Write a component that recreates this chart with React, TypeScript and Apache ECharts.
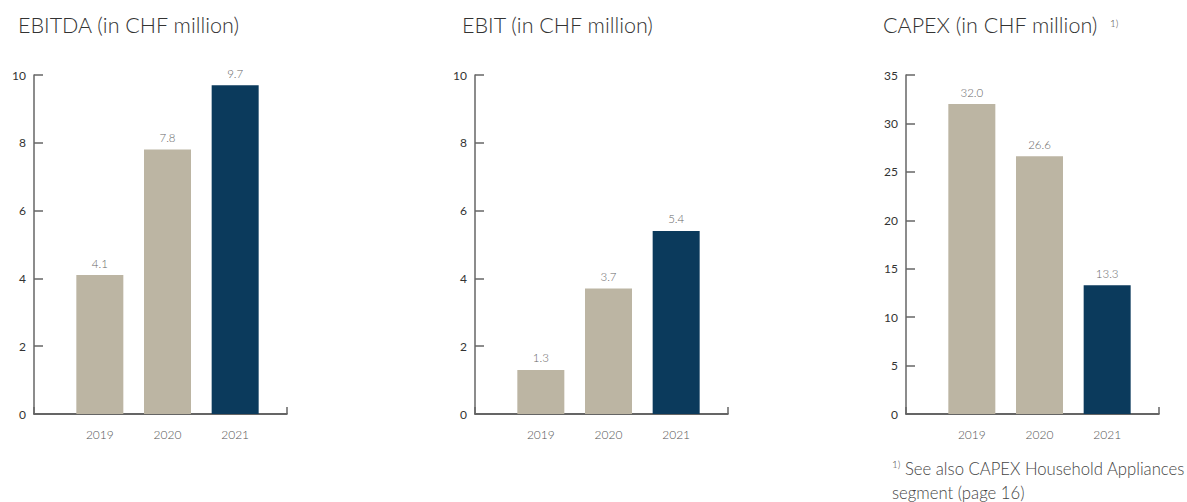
import React, { useEffect, useRef } from "react";
import * as echarts from "echarts";

const years = ["2019", "2020", "2021"];
const ebitdaValues = [4.1, 7.8, 9.7];
const ebitValues = [1.3, 3.7, 5.4];
const capexValues = [32.0, 26.6, 13.3];
const ebitdaAxis = { max: 10, interval: 2 };
const ebitAxis = { max: 10, interval: 2 };
const capexAxis = { max: 35, interval: 5 };
const titles = ["EBITDA (in CHF million)", "EBIT (in CHF million)", "CAPEX (in CHF million)"];
const footnoteMark = "1)";
const footnoteLines = ["See also CAPEX Household Appliances", "segment (page 16)"];

const FONT = "Lato, 'Open Sans', sans-serif";
const BEIGE = "#bcb5a3";
const NAVY = "#0b3a5c";

export default function App() {
  const ref = useRef<HTMLDivElement>(null);
  useEffect(() => {
    document.body.style.margin = "0";
    if (!ref.current) return;
    const chart = echarts.init(ref.current, null, { renderer: "svg" });
    const panels = [
      { values: ebitdaValues, axis: ebitdaAxis, axisX: 34, titleX: 18, title: titles[0] },
      { values: ebitValues, axis: ebitAxis, axisX: 475, titleX: 462, title: titles[1] },
      { values: capexValues, axis: capexAxis, axisX: 906, titleX: 883, title: titles[2] },
    ];
    const top = 75;
    const height = 339;
    const grid: any[] = [];
    const xAxis: any[] = [];
    const yAxis: any[] = [];
    const series: any[] = [];
    const graphic: any[] = [];
    panels.forEach((p, i) => {
      grid.push({ left: p.axisX, top, width: 253, height });
      grid.push({ left: p.axisX + 32, top, width: 203, height });
      xAxis.push({
        gridIndex: 2 * i,
        type: "value",
        min: 0,
        max: 1,
        interval: 1,
        axisLine: { show: true, onZero: false, lineStyle: { color: "#333", width: 1.5 } },
        axisTick: { show: true, inside: true, length: 7, lineStyle: { color: "#666", width: 1.5 } },
        axisLabel: { show: false },
        splitLine: { show: false },
      });
      xAxis.push({
        gridIndex: 2 * i + 1,
        type: "category",
        data: years,
        axisLine: { show: false },
        axisTick: { show: false },
        axisLabel: { margin: 14, fontSize: 12, fontWeight: 300, color: "#555", fontFamily: FONT },
      });
      yAxis.push({
        gridIndex: 2 * i,
        type: "value",
        min: 0,
        max: p.axis.max,
        interval: p.axis.interval,
        axisLine: { show: true, onZero: false, lineStyle: { color: "#666", width: 1.5 } },
        axisTick: { show: true, inside: true, length: 9, lineStyle: { color: "#666", width: 1.5 } },
        axisLabel: { margin: 8, fontSize: 12, color: "#333", fontFamily: FONT, padding: [6, 0, 0, 0] },
        splitLine: { show: false },
      });
      yAxis.push({
        gridIndex: 2 * i + 1,
        type: "value",
        min: 0,
        max: p.axis.max,
        show: false,
      });
      series.push({
        type: "bar",
        xAxisIndex: 2 * i + 1,
        yAxisIndex: 2 * i + 1,
        barWidth: 47,
        data: p.values.map((v, j) => ({
          value: v,
          itemStyle: { color: j === p.values.length - 1 ? NAVY : BEIGE },
        })),
        label: {
          show: true,
          position: "top",
          distance: 6,
          fontSize: 11.5,
          fontWeight: 300,
          color: "#666",
          fontFamily: FONT,
          formatter: (d: any) => Number(d.value).toFixed(1),
        },
      });
      graphic.push({
        type: "text",
        left: p.titleX,
        top: 14,
        style: { text: p.title, fontSize: 21.5, fontWeight: 300, fill: "#333", fontFamily: FONT },
      });
    });
    graphic.push({
      type: "text",
      left: 1110,
      top: 18,
      style: { text: footnoteMark, fontSize: 10, fontWeight: 300, fill: "#444", fontFamily: FONT },
    });
    graphic.push({
      type: "text",
      left: 892,
      top: 459,
      style: { text: footnoteMark, fontSize: 10, fontWeight: 300, fill: "#444", fontFamily: FONT },
    });
    graphic.push({
      type: "text",
      left: 905,
      top: 460,
      style: { text: footnoteLines[0], fontSize: 16.7, fontWeight: 300, fill: "#444", fontFamily: FONT },
    });
    graphic.push({
      type: "text",
      left: 892,
      top: 484,
      style: { text: footnoteLines[1], fontSize: 16.7, fontWeight: 300, fill: "#444", fontFamily: FONT },
    });
    chart.setOption({
      animation: false,
      textStyle: { fontFamily: FONT },
      grid,
      xAxis,
      yAxis,
      series,
      graphic,
    });
    return () => chart.dispose();
  }, []);
  return <div ref={ref} style={{ width: 1187, height: 502 }} />;
}
